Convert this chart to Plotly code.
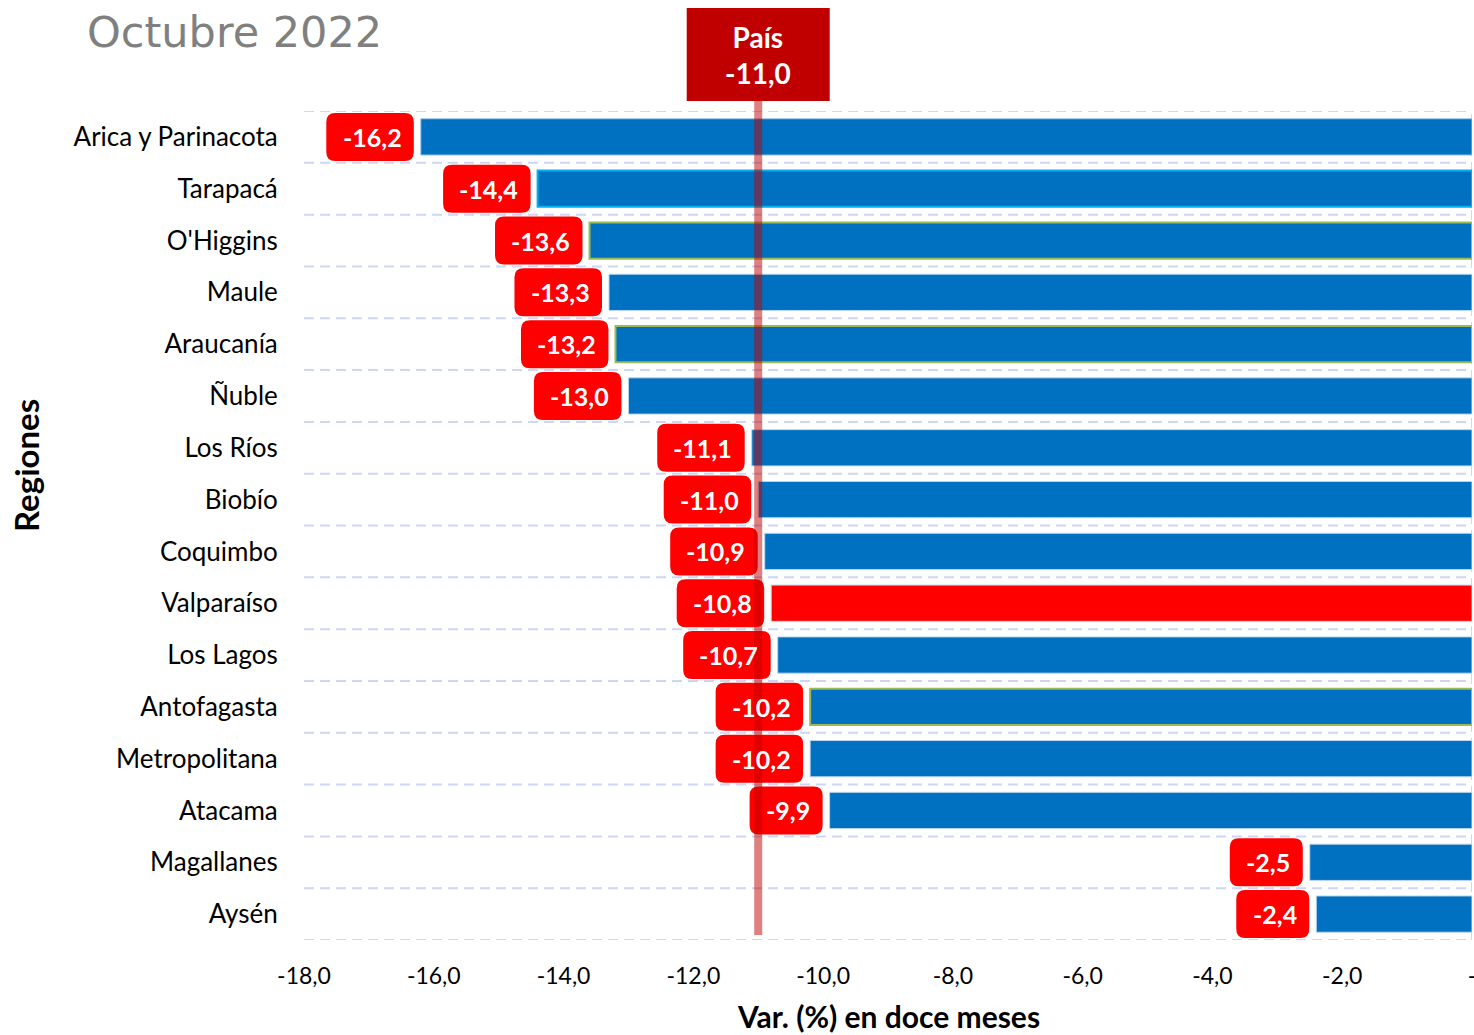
import plotly.graph_objects as go

regiones = ["Arica y Parinacota", "Tarapacá", "O'Higgins", "Maule", "Araucanía", "Ñuble",
            "Los Ríos", "Biobío", "Coquimbo", "Valparaíso", "Los Lagos", "Antofagasta",
            "Metropolitana", "Atacama", "Magallanes", "Aysén"]
variacion = [-16.2, -14.4, -13.6, -13.3, -13.2, -13.0, -11.1, -11.0, -10.9, -10.8, -10.7,
             -10.2, -10.2, -9.9, -2.5, -2.4]
pais_valor = -11.0
titulo = "Octubre 2022"
x_ticks = [-18, -16, -14, -12, -10, -8, -6, -4, -2, 0]

BLUE = "#0070C0"
RED = "#FF0000"
DARK_RED = "#C00000"
GRID = "#CDD6F4"
FONT = "Lato"

W, H = 1474, 1035

def fmt(v):
    return f"{v:.1f}".replace(".", ",")

fill_colors = [RED if r == "Valparaíso" else BLUE for r in regiones]
line_colors = []
line_widths = []
for r in regiones:
    if r == "Tarapacá":
        line_colors.append("#00B0F0"); line_widths.append(2)
    elif r in ("O'Higgins", "Araucanía", "Antofagasta"):
        line_colors.append("#9BBB59"); line_widths.append(2)
    elif r == "Arica y Parinacota":
        line_colors.append("#9DC3E6"); line_widths.append(1)
    else:
        line_colors.append("#BDD7EE"); line_widths.append(1)

ypos = list(range(len(regiones)))

fig = go.Figure()
fig.add_trace(go.Bar(
    x=variacion, y=ypos, orientation="h", width=0.7,
    marker=dict(color=fill_colors, line=dict(color=line_colors, width=line_widths)),
    hoverinfo="skip", showlegend=False,
))

shapes = []
annotations = []

# dashed row separators
for i in range(len(regiones) + 1):
    shapes.append(dict(type="line", xref="paper", yref="y", x0=0, x1=1,
                       y0=i - 0.5, y1=i - 0.5,
                       line=dict(color=GRID, width=2, dash="10px,6px"), layer="below"))
# dashed vertical at zero
shapes.append(dict(type="line", xref="x", yref="paper", x0=0, x1=0, y0=0, y1=1,
                   line=dict(color=GRID, width=2, dash="10px,6px"), layer="below"))

def rounded(x0, x1, y0, y1, r):
    return (f"M {x0+r},{y0} L {x1-r},{y0} Q {x1},{y0} {x1},{y0+r} "
            f"L {x1},{y1-r} Q {x1},{y1} {x1-r},{y1} L {x0+r},{y1} "
            f"Q {x0},{y1} {x0},{y1-r} L {x0},{y0+r} Q {x0},{y0} {x0+r},{y0} Z")

for i, v in enumerate(variacion):
    txt = fmt(v)
    ndig = sum(c.isdigit() for c in txt)
    bw = 30 + 14.5 * ndig + 14
    right = -7
    left = right - bw
    shapes.append(dict(type="path", xref="x", yref="y", xsizemode="pixel", ysizemode="pixel",
                       xanchor=v, yanchor=i, path=rounded(left, right, -24, 24, 9),
                       fillcolor=RED, line=dict(width=0), layer="above"))
    annotations.append(dict(x=v, y=i, xref="x", yref="y", xshift=(left + right) / 2 + 2,
                            showarrow=False, xanchor="center", yanchor="middle",
                            text=f"<b>{txt}</b>",
                            font=dict(family=FONT, size=25, color="white")))

# País box and line
shapes.append(dict(type="line", xref="x", yref="paper", x0=pais_valor, x1=pais_valor,
                   y0=0.006, y1=1.012, line=dict(color="rgba(192,0,0,0.5)", width=8),
                   layer="above"))
shapes.append(dict(type="rect", xref="x", yref="paper", xsizemode="pixel", ysizemode="pixel",
                   xanchor=pais_valor, yanchor=1, x0=-71.5, x1=71.5, y0=10, y1=103,
                   fillcolor=DARK_RED, line=dict(width=0), layer="above"))
annotations.append(dict(x=pais_valor, y=1, xref="x", yref="paper", yshift=56, showarrow=False,
                        xanchor="center", yanchor="middle",
                        text=f"<b>País</b><br><b>{fmt(pais_valor)}</b>",
                        font=dict(family=FONT, size=28, color="white")))

# axis titles
annotations.append(dict(x=-0.2380, y=0.5718, xref="paper", yref="paper", textangle=-90,
                        xanchor="center", yanchor="middle",
                        showarrow=False, text="<b>Regiones</b>",
                        font=dict(family=FONT, size=33, color="black")))
annotations.append(dict(x=0.5, y=-0.092, xref="paper", yref="paper", showarrow=False,
                        xanchor="center", yanchor="middle",
                        text="<b>Var. (%) en doce meses</b>",
                        font=dict(family=FONT, size=30, color="black")))

fig.update_layout(
    width=W, height=H, autosize=False,
    margin=dict(l=304, r=2, t=111, b=95, autoexpand=False),
    paper_bgcolor="white", plot_bgcolor="white",
    title=dict(text=titulo, x=87 / W, xanchor="left", y=1 - 32 / H, yanchor="middle",
               font=dict(family="DejaVu Sans", size=43, color="#808080")),
    shapes=shapes, annotations=annotations, bargap=0.3,
    xaxis=dict(range=[-18, 0], tickvals=x_ticks,
               ticktext=[fmt(t) if t != 0 else "-" for t in x_ticks],
               ticklabeloverflow="allow", automargin=False,
               showgrid=False, zeroline=False, showline=False,
               ticks="outside", ticklen=15, tickcolor="rgba(0,0,0,0)",
               tickfont=dict(family=FONT, size=23, color="black")),
    yaxis=dict(range=[len(regiones) - 0.5, -0.5], tickvals=ypos, ticktext=regiones,
               automargin=False,
               showgrid=False, zeroline=False, showline=False,
               ticks="outside", ticklen=20, tickcolor="rgba(0,0,0,0)",
               tickfont=dict(family=FONT, size=26, color="black")),
)

fig.write_html("out.html", config={"displayModeBar": False},
               post_script="document.body.style.margin='0';document.body.style.overflow='hidden';")
